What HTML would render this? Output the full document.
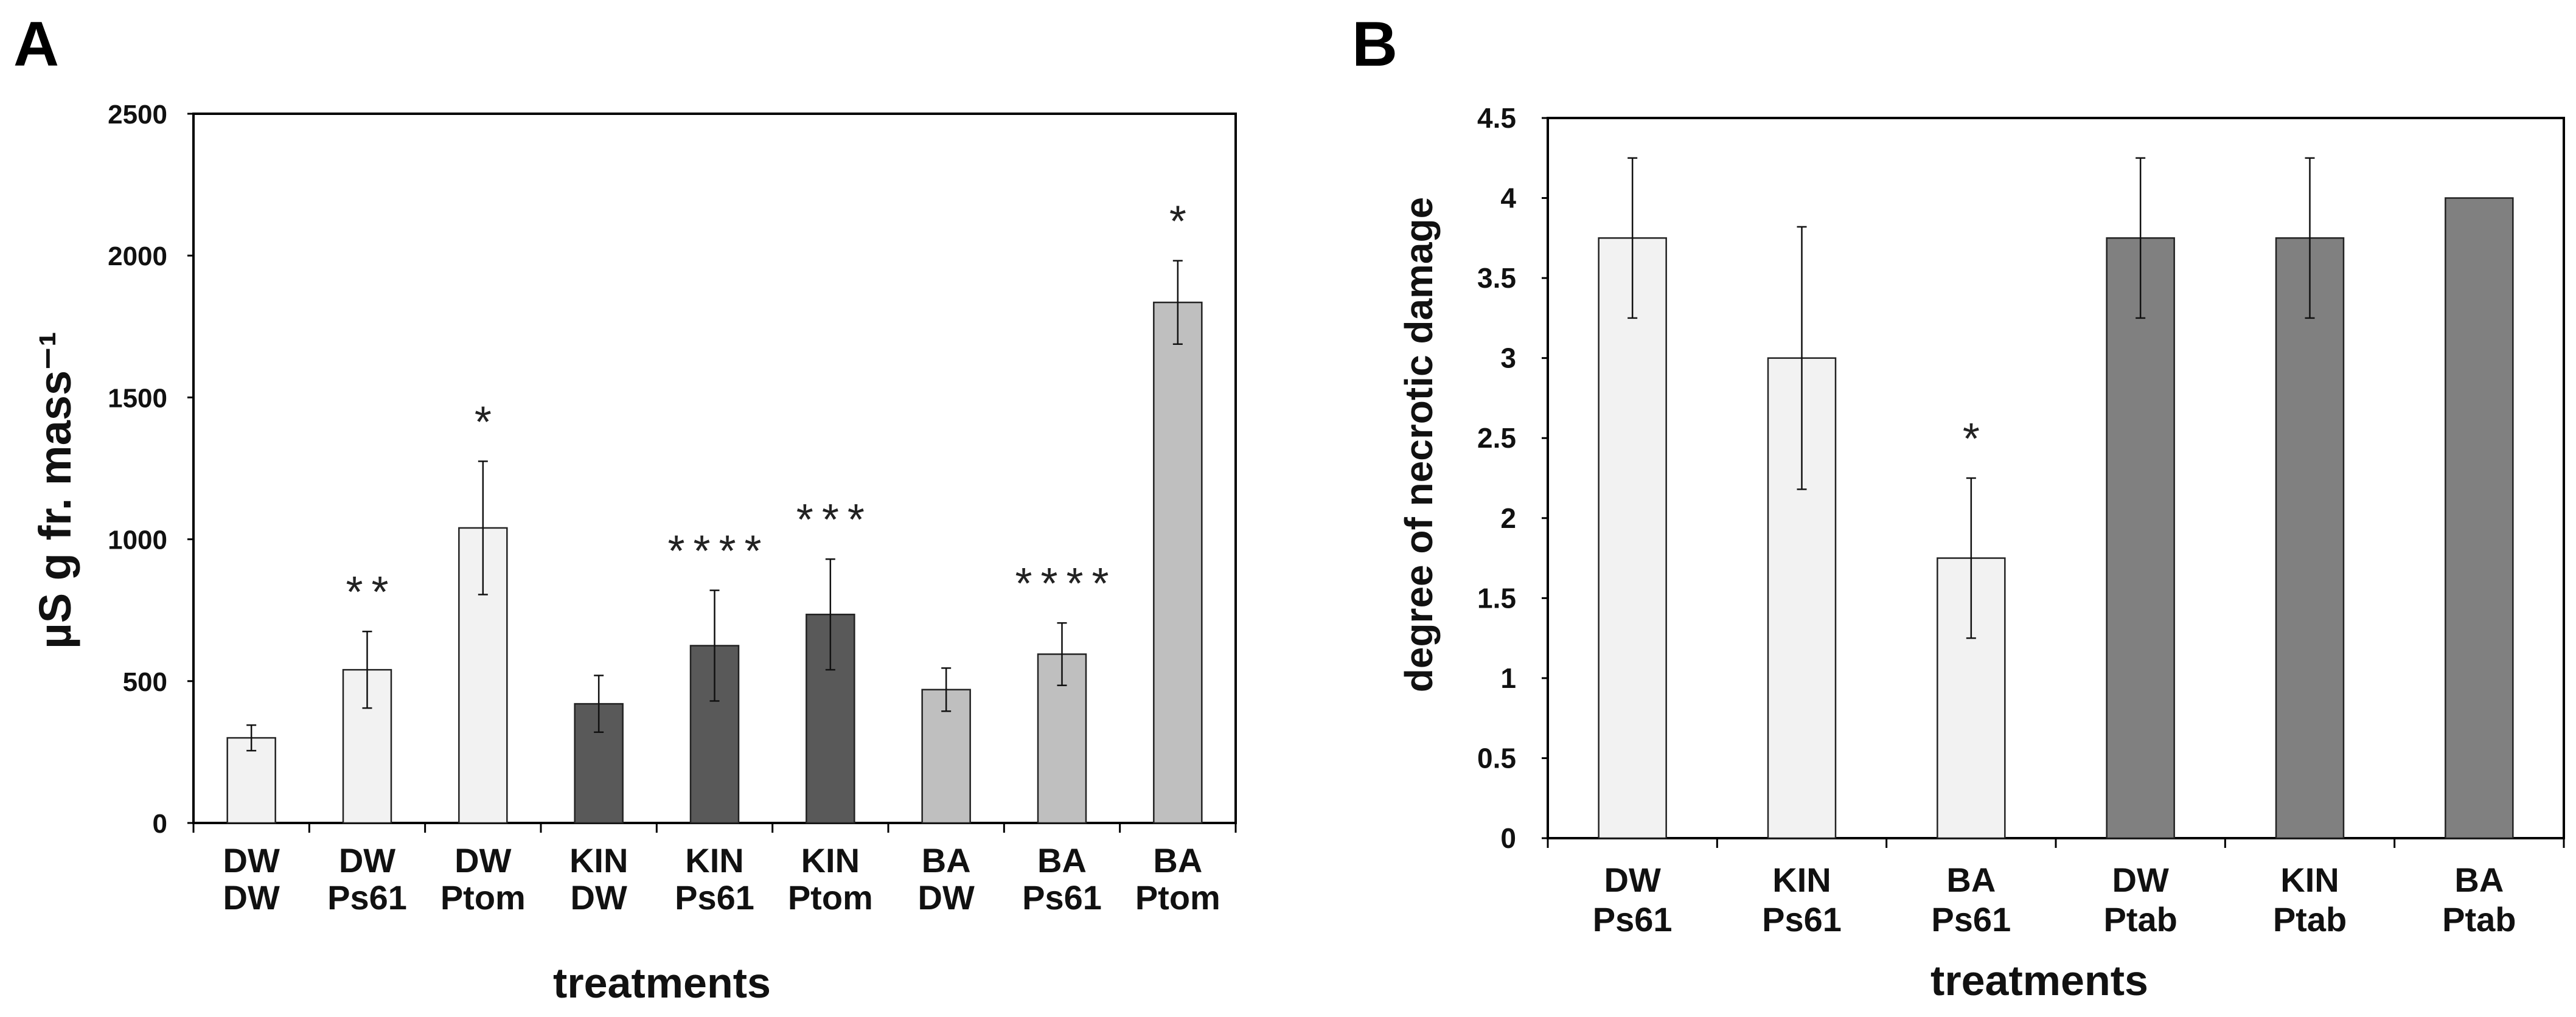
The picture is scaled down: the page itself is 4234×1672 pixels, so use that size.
<!DOCTYPE html>
<html><head><meta charset="utf-8"><style>
html,body{margin:0;padding:0;background:#fff;}
svg{display:block;font-family:"Liberation Sans",Arial,sans-serif;}
</style></head><body>
<svg id="chart" width="4234" height="1672" viewBox="0 0 4234 1672" xmlns="http://www.w3.org/2000/svg">
<text x="22" y="108" font-size="104" font-weight="bold">A</text>
<text x="2222" y="108" font-size="104" font-weight="bold">B</text>
<g id="gA"></g>
<g id="gB"></g>
</svg>
<script>
const catsA1 = ["DW","DW","DW","KIN","KIN","KIN","BA","BA","BA"];
const catsA2 = ["DW","Ps61","Ptom","DW","Ps61","Ptom","DW","Ps61","Ptom"];
const valuesA = [300,540,1040,420,625,735,470,595,1835];
const errorsA = [45,135,235,100,195,195,76,110,147];
const starsA = ["","**","*","","****","***","","****","*"];
const colorsA = ["#f2f2f2","#f2f2f2","#f2f2f2","#595959","#595959","#595959","#bfbfbf","#bfbfbf","#bfbfbf"];
const ticksA = [0,500,1000,1500,2000,2500];

const catsB1 = ["DW","KIN","BA","DW","KIN","BA"];
const catsB2 = ["Ps61","Ps61","Ps61","Ptab","Ptab","Ptab"];
const valuesB = [3.75,3,1.75,3.75,3.75,4];
const errorsB = [0.5,0.82,0.5,0.5,0.5,0];
const starsB = ["","","*","","",""];
const colorsB = ["#f2f2f2","#f2f2f2","#f2f2f2","#808080","#808080","#808080"];
const ticksB = [0,0.5,1,1.5,2,2.5,3,3.5,4,4.5];
const tickLabelsB = ["0","0.5","1","1.5","2","2.5","3","3.5","4","4.5"];

const NS="http://www.w3.org/2000/svg";
function mk(parent,tag,attrs,text){const e=document.createElementNS(NS,tag);for(const k in attrs)e.setAttribute(k,attrs[k]);if(text!==undefined)e.textContent=text;parent.appendChild(e);return e;}

function drawChart(g,cfg){
  const {L,R,T,B,max,cats1,cats2,vals,errs,stars,colors,ticks,tickLabels,barW,lab1Y,lab2Y,yLabX,titleX,titleY,ytitle,xtitleX,xtitleY,tickFont,catFont,prefix}=cfg;
  const n=vals.length, cw=(R-L)/n;
  const y=v=>B-(v/max)*(B-T);
  const x=i=>L+cw*(i+0.5);
  const frame=mk(g,'rect',{x:L,y:T,width:R-L,height:B-T,fill:'none',stroke:'#000','stroke-width':4});
  
  
  ticks.forEach((t,i)=>{
    const tk=mk(g,'line',{x1:L-10,x2:L,y1:y(t),y2:y(t),stroke:'#000','stroke-width':3});
    
    
    const tl=mk(g,'text',{x:yLabX,y:y(t)+16,'text-anchor':'end','font-size':tickFont,'font-weight':'bold',fill:'#111'},tickLabels?tickLabels[i]:String(t));
    
    
  });
  for(let i=0;i<=n;i++){
    const tk=mk(g,'line',{x1:L+cw*i,x2:L+cw*i,y1:B,y2:B+16,stroke:'#000','stroke-width':3});
    
    
  }
  vals.forEach((v,i)=>{
    const bar=mk(g,'rect',{x:x(i)-barW/2,y:y(v),width:barW,height:B-y(v),fill:colors[i],stroke:'#222','stroke-width':2.5});
    
    
    if(errs[i]>0){
      const eg=mk(g,'g',{stroke:'#111','stroke-width':2.5});
      
      
      mk(eg,'line',{x1:x(i),x2:x(i),y1:y(v+errs[i]),y2:y(v-errs[i])});
      mk(eg,'line',{x1:x(i)-8,x2:x(i)+8,y1:y(v+errs[i]),y2:y(v+errs[i])});
      mk(eg,'line',{x1:x(i)-8,x2:x(i)+8,y1:y(v-errs[i]),y2:y(v-errs[i])});
    }
    if(stars[i]){
      const st=mk(g,'text',{x:x(i)+7,y:y(v+errs[i])-40,'text-anchor':'middle','font-size':72,fill:'#222','letter-spacing':'14'},stars[i]);
      
      
    }
    const c1=mk(g,'text',{x:x(i),y:lab1Y,'text-anchor':'middle','font-size':catFont,'font-weight':'bold',fill:'#111'},cats1[i]);
    
    
    const c2=mk(g,'text',{x:x(i),y:lab2Y,'text-anchor':'middle','font-size':catFont,'font-weight':'bold',fill:'#111'},cats2[i]);
    
    
  });
  const yt=mk(g,'text',{x:0,y:0,transform:`translate(${titleX},${titleY}) rotate(-90)`,'text-anchor':'middle','font-size':cfg.ytFont,'font-weight':'bold',fill:'#111'},ytitle);
  
  
  const xt=mk(g,'text',{x:xtitleX,y:xtitleY,'text-anchor':'middle','font-size':70,'font-weight':'bold',fill:'#111'},'treatments');
  
  
}
drawChart(document.getElementById('gA'),{L:318,R:2031,T:187,B:1353,max:2500,cats1:catsA1,cats2:catsA2,vals:valuesA,errs:errorsA,stars:starsA,colors:colorsA,ticks:ticksA,barW:79,lab1Y:1434,lab2Y:1495,yLabX:275,titleX:116,titleY:806,ytitle:"µS g fr. mass⁻¹",ytFont:74,xtitleX:1088,xtitleY:1640,tickFont:44,catFont:56,prefix:'a'});
drawChart(document.getElementById('gB'),{L:2544,R:4214,T:194,B:1378,max:4.5,cats1:catsB1,cats2:catsB2,vals:valuesB,errs:errorsB,stars:starsB,colors:colorsB,ticks:ticksB,tickLabels:tickLabelsB,barW:111,lab1Y:1466,lab2Y:1531,yLabX:2492,titleX:2354,titleY:731,ytitle:"degree of necrotic damage",ytFont:64,xtitleX:3352,xtitleY:1636,tickFont:46,catFont:56,prefix:'b'});
</script>
</body></html>
